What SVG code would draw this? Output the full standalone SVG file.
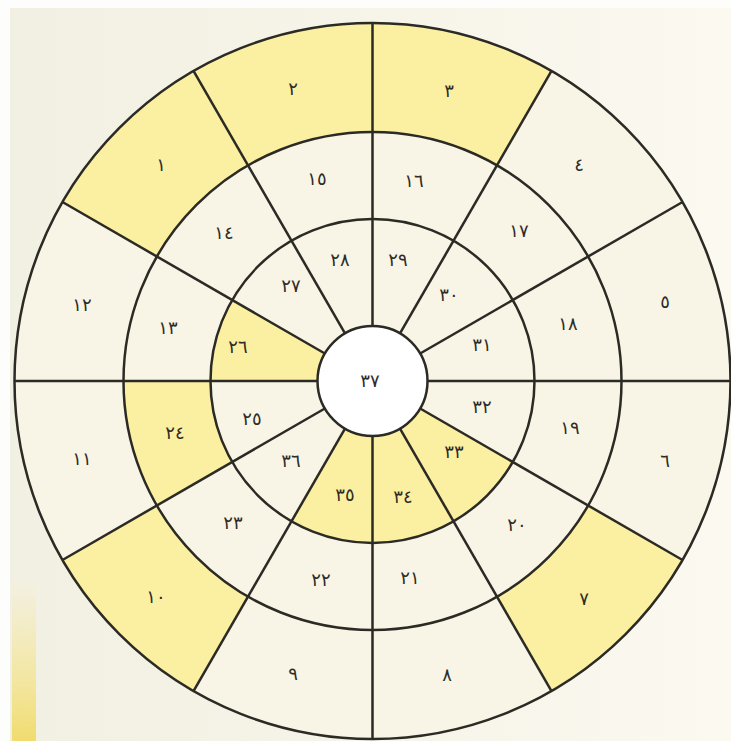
<svg xmlns="http://www.w3.org/2000/svg" width="731" height="741" viewBox="0 0 731 741">
<defs>
<linearGradient id="bg" x1="0" y1="0" x2="1" y2="0">
<stop offset="0" stop-color="#f2f0e2"/>
<stop offset="1" stop-color="#fbf9f0"/>
</linearGradient>
<linearGradient id="strip" x1="0" y1="0" x2="0" y2="1">
<stop offset="0" stop-color="#f4e27a" stop-opacity="0"/>
<stop offset="0.6" stop-color="#f3df70" stop-opacity="0.55"/>
<stop offset="1" stop-color="#f0d85a" stop-opacity="0.85"/>
</linearGradient>
</defs>
<style>
.c{fill:#f8f5e6}
.y{fill:#fbf0a2}
.ln{stroke:#2b2a24;stroke-width:2.5;fill:none}
.t{font-family:"DejaVu Sans","Noto Sans",sans-serif;font-size:18px;fill:#2e2c26;text-anchor:middle;dominant-baseline:central}
</style>
<rect x="0" y="0" width="731" height="741" fill="#fdfdfb"/>
<rect x="10" y="8" width="721" height="733" fill="url(#bg)"/>
<rect x="12" y="580" width="24" height="161" fill="url(#strip)"/>

<!-- outer ring -->
<g id="cell-5"><path class="c" d="M730.5,381 A358,358 0 0 0 682.54,202 L588.14,256.5 A249,249 0 0 1 621.5,381 Z"/><text class="t" x="665" y="301">٥</text></g>
<g id="cell-4"><path class="c" d="M682.54,202 A358,358 0 0 0 551.5,70.96 L497,165.36 A249,249 0 0 1 588.14,256.5 Z"/><text class="t" x="579" y="164">٤</text></g>
<g id="cell-3"><path class="y" d="M551.5,70.96 A358,358 0 0 0 372.5,23 L372.5,132 A249,249 0 0 1 497,165.36 Z"/><text class="t" x="449" y="90">٣</text></g>
<g id="cell-2"><path class="y" d="M372.5,23 A358,358 0 0 0 193.5,70.96 L248,165.36 A249,249 0 0 1 372.5,132 Z"/><text class="t" x="293" y="88">٢</text></g>
<g id="cell-1"><path class="y" d="M193.5,70.96 A358,358 0 0 0 62.46,202 L156.86,256.5 A249,249 0 0 1 248,165.36 Z"/><text class="t" x="161" y="164">١</text></g>
<g id="cell-12"><path class="c" d="M62.46,202 A358,358 0 0 0 14.5,381 L123.5,381 A249,249 0 0 1 156.86,256.5 Z"/><text class="t" x="82" y="304">١٢</text></g>
<g id="cell-11"><path class="c" d="M14.5,381 A358,358 0 0 0 62.46,560 L156.86,505.5 A249,249 0 0 1 123.5,381 Z"/><text class="t" x="82" y="458">١١</text></g>
<g id="cell-10"><path class="y" d="M62.46,560 A358,358 0 0 0 193.5,691.04 L248,596.64 A249,249 0 0 1 156.86,505.5 Z"/><text class="t" x="156" y="596">١٠</text></g>
<g id="cell-9"><path class="c" d="M193.5,691.04 A358,358 0 0 0 372.5,739 L372.5,630 A249,249 0 0 1 248,596.64 Z"/><text class="t" x="293" y="673">٩</text></g>
<g id="cell-8"><path class="c" d="M372.5,739 A358,358 0 0 0 551.5,691.04 L497,596.64 A249,249 0 0 1 372.5,630 Z"/><text class="t" x="447" y="674">٨</text></g>
<g id="cell-7"><path class="y" d="M551.5,691.04 A358,358 0 0 0 682.54,560 L588.14,505.5 A249,249 0 0 1 497,596.64 Z"/><text class="t" x="584" y="598">٧</text></g>
<g id="cell-6"><path class="c" d="M682.54,560 A358,358 0 0 0 730.5,381 L621.5,381 A249,249 0 0 1 588.14,505.5 Z"/><text class="t" x="665" y="460">٦</text></g>

<!-- middle ring -->
<g id="cell-18"><path class="c" d="M621.5,381 A249,249 0 0 0 588.14,256.5 L512.8,300 A162,162 0 0 1 534.5,381 Z"/><text class="t" x="568" y="323">١٨</text></g>
<g id="cell-17"><path class="c" d="M588.14,256.5 A249,249 0 0 0 497,165.36 L453.5,240.7 A162,162 0 0 1 512.8,300 Z"/><text class="t" x="519" y="230">١٧</text></g>
<g id="cell-16"><path class="c" d="M497,165.36 A249,249 0 0 0 372.5,132 L372.5,219 A162,162 0 0 1 453.5,240.7 Z"/><text class="t" x="414" y="180">١٦</text></g>
<g id="cell-15"><path class="c" d="M372.5,132 A249,249 0 0 0 248,165.36 L291.5,240.7 A162,162 0 0 1 372.5,219 Z"/><text class="t" x="317" y="178">١٥</text></g>
<g id="cell-14"><path class="c" d="M248,165.36 A249,249 0 0 0 156.86,256.5 L232.2,300 A162,162 0 0 1 291.5,240.7 Z"/><text class="t" x="224" y="232">١٤</text></g>
<g id="cell-13"><path class="c" d="M156.86,256.5 A249,249 0 0 0 123.5,381 L210.5,381 A162,162 0 0 1 232.2,300 Z"/><text class="t" x="168" y="327">١٣</text></g>
<g id="cell-24"><path class="y" d="M123.5,381 A249,249 0 0 0 156.86,505.5 L232.2,462 A162,162 0 0 1 210.5,381 Z"/><text class="t" x="175" y="432">٢٤</text></g>
<g id="cell-23"><path class="c" d="M156.86,505.5 A249,249 0 0 0 248,596.64 L291.5,521.3 A162,162 0 0 1 232.2,462 Z"/><text class="t" x="233" y="522">٢٣</text></g>
<g id="cell-22"><path class="c" d="M248,596.64 A249,249 0 0 0 372.5,630 L372.5,543 A162,162 0 0 1 291.5,521.3 Z"/><text class="t" x="321" y="579">٢٢</text></g>
<g id="cell-21"><path class="c" d="M372.5,630 A249,249 0 0 0 497,596.64 L453.5,521.3 A162,162 0 0 1 372.5,543 Z"/><text class="t" x="410" y="577">٢١</text></g>
<g id="cell-20"><path class="c" d="M497,596.64 A249,249 0 0 0 588.14,505.5 L512.8,462 A162,162 0 0 1 453.5,521.3 Z"/><text class="t" x="517" y="524">٢٠</text></g>
<g id="cell-19"><path class="c" d="M588.14,505.5 A249,249 0 0 0 621.5,381 L534.5,381 A162,162 0 0 1 512.8,462 Z"/><text class="t" x="570" y="427">١٩</text></g>

<!-- inner ring -->
<g id="cell-31"><path class="c" d="M534.5,381 A162,162 0 0 0 512.8,300 L420.13,353.5 A55,55 0 0 1 427.5,381 Z"/><text class="t" x="482" y="344">٣١</text></g>
<g id="cell-30"><path class="c" d="M512.8,300 A162,162 0 0 0 453.5,240.7 L400,333.37 A55,55 0 0 1 420.13,353.5 Z"/><text class="t" x="449" y="294">٣٠</text></g>
<g id="cell-29"><path class="c" d="M453.5,240.7 A162,162 0 0 0 372.5,219 L372.5,326 A55,55 0 0 1 400,333.37 Z"/><text class="t" x="398" y="259">٢٩</text></g>
<g id="cell-28"><path class="c" d="M372.5,219 A162,162 0 0 0 291.5,240.7 L345,333.37 A55,55 0 0 1 372.5,326 Z"/><text class="t" x="340" y="259">٢٨</text></g>
<g id="cell-27"><path class="c" d="M291.5,240.7 A162,162 0 0 0 232.2,300 L324.87,353.5 A55,55 0 0 1 345,333.37 Z"/><text class="t" x="291" y="285">٢٧</text></g>
<g id="cell-26"><path class="y" d="M232.2,300 A162,162 0 0 0 210.5,381 L317.5,381 A55,55 0 0 1 324.87,353.5 Z"/><text class="t" x="238" y="346">٢٦</text></g>
<g id="cell-25"><path class="c" d="M210.5,381 A162,162 0 0 0 232.2,462 L324.87,408.5 A55,55 0 0 1 317.5,381 Z"/><text class="t" x="252" y="418">٢٥</text></g>
<g id="cell-36"><path class="c" d="M232.2,462 A162,162 0 0 0 291.5,521.3 L345,428.63 A55,55 0 0 1 324.87,408.5 Z"/><text class="t" x="291" y="460">٣٦</text></g>
<g id="cell-35"><path class="y" d="M291.5,521.3 A162,162 0 0 0 372.5,543 L372.5,436 A55,55 0 0 1 345,428.63 Z"/><text class="t" x="345" y="494">٣٥</text></g>
<g id="cell-34"><path class="y" d="M372.5,543 A162,162 0 0 0 453.5,521.3 L400,428.63 A55,55 0 0 1 372.5,436 Z"/><text class="t" x="403" y="496">٣٤</text></g>
<g id="cell-33"><path class="y" d="M453.5,521.3 A162,162 0 0 0 512.8,462 L420.13,408.5 A55,55 0 0 1 400,428.63 Z"/><text class="t" x="454" y="451">٣٣</text></g>
<g id="cell-32"><path class="c" d="M512.8,462 A162,162 0 0 0 534.5,381 L427.5,381 A55,55 0 0 1 420.13,408.5 Z"/><text class="t" x="482" y="406">٣٢</text></g>

<g id="connectors" class="ln">
<line x1="14.5" y1="381" x2="317.5" y2="381"/>
<line x1="427.5" y1="381" x2="730.5" y2="381"/>
<line x1="372.5" y1="23" x2="372.5" y2="326"/>
<line x1="372.5" y1="436" x2="372.5" y2="739"/>
<line x1="420.13" y1="353.5" x2="682.54" y2="202"/>
<line x1="400" y1="333.37" x2="551.5" y2="70.96"/>
<line x1="345" y1="333.37" x2="193.5" y2="70.96"/>
<line x1="324.87" y1="353.5" x2="62.46" y2="202"/>
<line x1="324.87" y1="408.5" x2="62.46" y2="560"/>
<line x1="345" y1="428.63" x2="193.5" y2="691.04"/>
<line x1="400" y1="428.63" x2="551.5" y2="691.04"/>
<line x1="420.13" y1="408.5" x2="682.54" y2="560"/>
<circle cx="372.5" cy="381" r="162"/>
<circle cx="372.5" cy="381" r="249"/>
<circle cx="372.5" cy="381" r="358"/>
</g>

<g id="cell-37">
<circle cx="372.5" cy="381" r="55" fill="#ffffff" stroke="#2b2a24" stroke-width="2.5"/>
<text class="t" x="370" y="380">٣٧</text>
</g>
</svg>
